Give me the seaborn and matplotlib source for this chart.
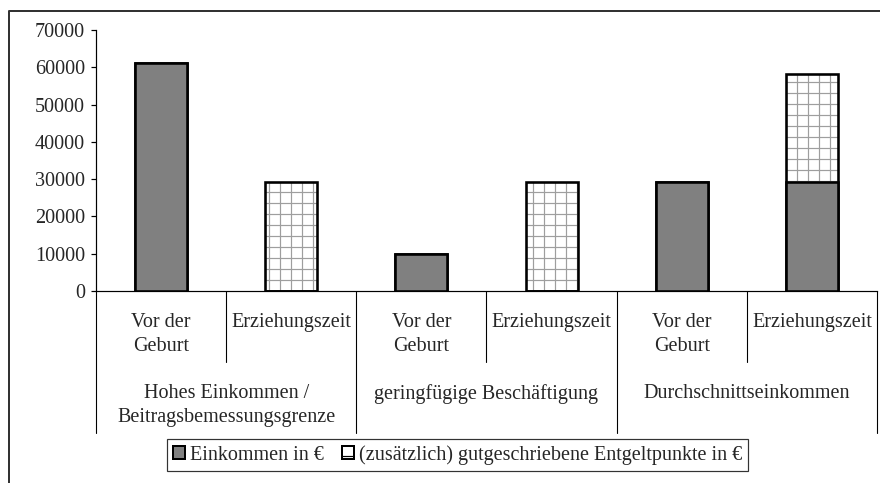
import matplotlib
matplotlib.use("Agg")
import matplotlib.pyplot as plt
import matplotlib.transforms as mtransforms
from matplotlib.patches import Patch
from matplotlib.lines import Line2D
import seaborn as sns
import pandas as pd

# ---------------- data ----------------
groups = ["Hohes Einkommen /\nBeitragsbemessungsgrenze",
          "geringfügige Beschäftigung",
          "Durchschnittseinkommen"]
phases = ["Vor der\nGeburt", "Erziehungszeit"]
einkommen = [61200, 0, 10000, 0, 29100, 29100]          # Einkommen in €
entgeltpunkte = [0, 29100, 0, 29100, 0, 29100]          # (zusätzlich) gutgeschriebene Entgeltpunkte in €
yticks = [0, 10000, 20000, 30000, 40000, 50000, 60000, 70000]
legend_labels = ["Einkommen in €", "(zusätzlich) gutgeschriebene Entgeltpunkte in €"]

slots = [f"{g}|{p}" for g in groups for p in phases]
df = pd.DataFrame({
    "slot": slots,
    "einkommen": einkommen,
    "total": [a + b for a, b in zip(einkommen, entgeltpunkte)],
})

# ---------------- style ----------------
sns.set_style("white")
DPI = 66
plt.rcParams["font.family"] = ["Liberation Serif", "DejaVu Serif"]
FS = 22
plt.rcParams["hatch.linewidth"] = 1.3

fig = plt.figure(figsize=(880 / DPI, 483 / DPI), dpi=DPI)
W, H = 880, 483
ax = fig.add_axes([96 / W, 1 - 291 / H, (877 - 96) / W, 261 / H])

px = 72 / DPI  # points per pixel
edge_lw = 2.6 * px

# hatched total bars (drawn first)
sns.barplot(data=df, x="slot", y="total", order=slots, color="white",
            saturation=1, width=0.4, hatch="+", edgecolor="black",
            linewidth=edge_lw, ax=ax, zorder=2)
for p in list(ax.patches):
    p._hatch_color = (0.62, 0.62, 0.62, 1.0)

# solid income bars on top
sns.barplot(data=df, x="slot", y="einkommen", order=slots, color="#808080",
            saturation=1, width=0.4, edgecolor="black",
            linewidth=edge_lw, ax=ax, zorder=3)

ax.set_xlim(-0.5, len(slots) - 0.5)
ax.set_ylim(0, 70000)
ax.set_yticks(yticks)
ax.set_yticklabels([str(v) for v in yticks], fontsize=FS)
ax.set_xticks([])
ax.set_xlabel("")
ax.set_ylabel("")
ax.tick_params(axis="y", direction="out", length=5 * px, width=1.2 * px,
               pad=6 * px, left=True, color="black")
for s in ["top", "right"]:
    ax.spines[s].set_visible(False)
for s in ["left", "bottom"]:
    ax.spines[s].set_color("black")
    ax.spines[s].set_linewidth(1.2 * px)

# category separators and labels
trans = mtransforms.blended_transform_factory(ax.transData, ax.transAxes)
ah = 261.0
for i in range(len(slots) + 1):
    xb = i - 0.5
    ybot = -(433 - 291) / ah if i % 2 == 0 else -(362 - 291) / ah
    ax.add_line(Line2D([xb, xb], [0, ybot], transform=trans, color="black",
                       lw=1.1 * px, clip_on=False))

for i, s in enumerate(slots):
    g, p = s.split("|")
    ax.text(i, -(313 - 291) / ah, p, transform=trans, ha="center", va="top",
            fontsize=FS, linespacing=1.38)
for gi, g in enumerate(groups):
    ax.text(gi * 2 + 0.5, -(384 - 291) / ah, g, transform=trans, ha="center",
            va="top", fontsize=FS, linespacing=1.38)

# legend
handles = [Patch(facecolor="#808080", edgecolor="black", linewidth=2 * px),
           Patch(facecolor="white", edgecolor="black", linewidth=2 * px, hatch="-")]
leg = fig.legend(handles, legend_labels, loc="center",
                 bbox_to_anchor=(457.5 / W, 1 - 455 / H), ncol=2,
                 frameon=True, fancybox=False, edgecolor="black",
                 fontsize=FS, handlelength=0.6, handleheight=0.6,
                 handletextpad=0.25, columnspacing=0.9, borderpad=0.3,
                 borderaxespad=0)
leg.get_frame().set_linewidth(1.2 * px)

# outer chart frame (left and top)
fig.add_artist(Line2D([9 / W, 9 / W, 1.0], [0.0, 1 - 11 / H, 1 - 11 / H],
                      transform=fig.transFigure, color="#333333",
                      lw=2 * px))

fig.savefig("out.png", dpi=DPI, facecolor="white")
